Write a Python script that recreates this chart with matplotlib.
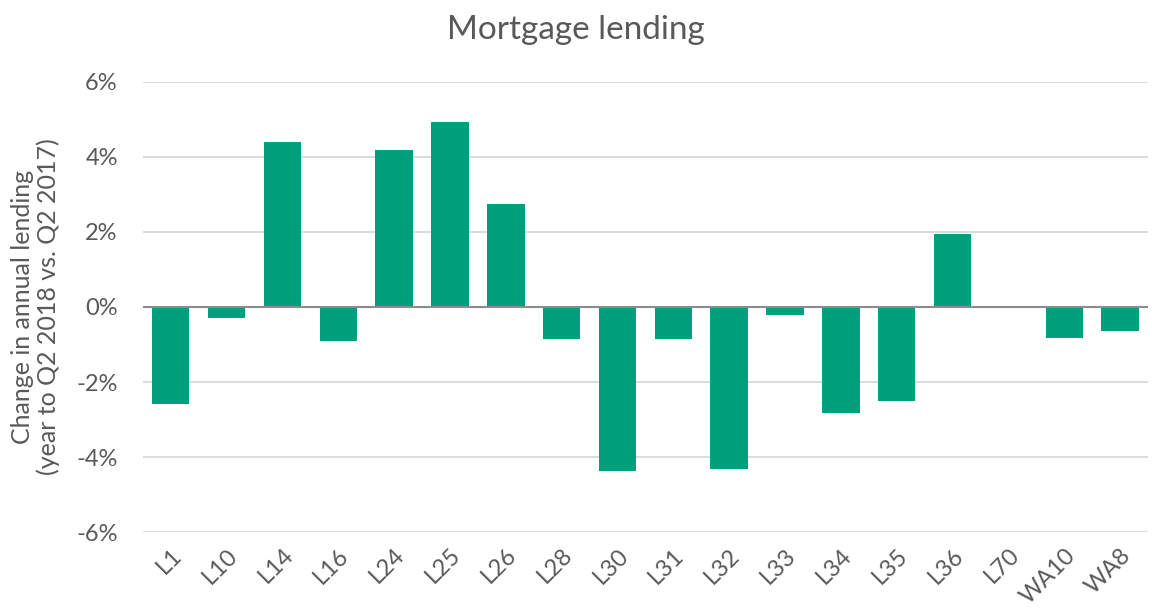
import matplotlib.pyplot as plt
from matplotlib.ticker import FuncFormatter

plt.rcParams['font.family'] = ['Lato', 'DejaVu Sans']

areas = ['L1', 'L10', 'L14', 'L16', 'L24', 'L25', 'L26', 'L28', 'L30', 'L31',
         'L32', 'L33', 'L34', 'L35', 'L36', 'L70', 'WA10', 'WA8']
change = [-2.59, -0.29, 4.40, -0.91, 4.19, 4.93, 2.75, -0.85, -4.37, -0.85,
          -4.32, -0.21, -2.83, -2.51, 1.95, 0.0, -0.83, -0.64]

txt = '#595959'

fig = plt.figure(figsize=(11.52, 6.09), dpi=100)
ax = fig.add_axes([0.124, 0.1264, 0.8725, 0.739])

x = list(range(len(areas)))
ax.bar(x, change, width=0.67, color='#00A07D', zorder=3)
ax.axhline(0, color='#8c8c8c', lw=1.5, zorder=4)

ax.set_ylim(-6, 6)
ax.set_xlim(-0.5, len(areas) - 0.5)
ax.set_yticks([-6, -4, -2, 0, 2, 4, 6])
ax.yaxis.set_major_formatter(FuncFormatter(lambda v, p: '%d%%' % v))
ax.grid(axis='y', color='#d9d9d9', lw=1.3, zorder=0)
for s in ax.spines.values():
    s.set_visible(False)
ax.tick_params(length=0, labelsize=17, colors=txt, pad=18)
ax.set_xticks(x)
ax.set_xticklabels(areas, rotation=45, ha='right', rotation_mode='anchor')
ax.tick_params(axis='x', pad=9)

ax.set_ylabel('Change in annual lending\n(year to Q2 2018 vs. Q2 2017)',
              fontsize=18, color=txt, labelpad=12, linespacing=1.1)
fig.suptitle('Mortgage lending', fontsize=24, color=txt, y=0.975)

fig.savefig('out.png', dpi=100)
